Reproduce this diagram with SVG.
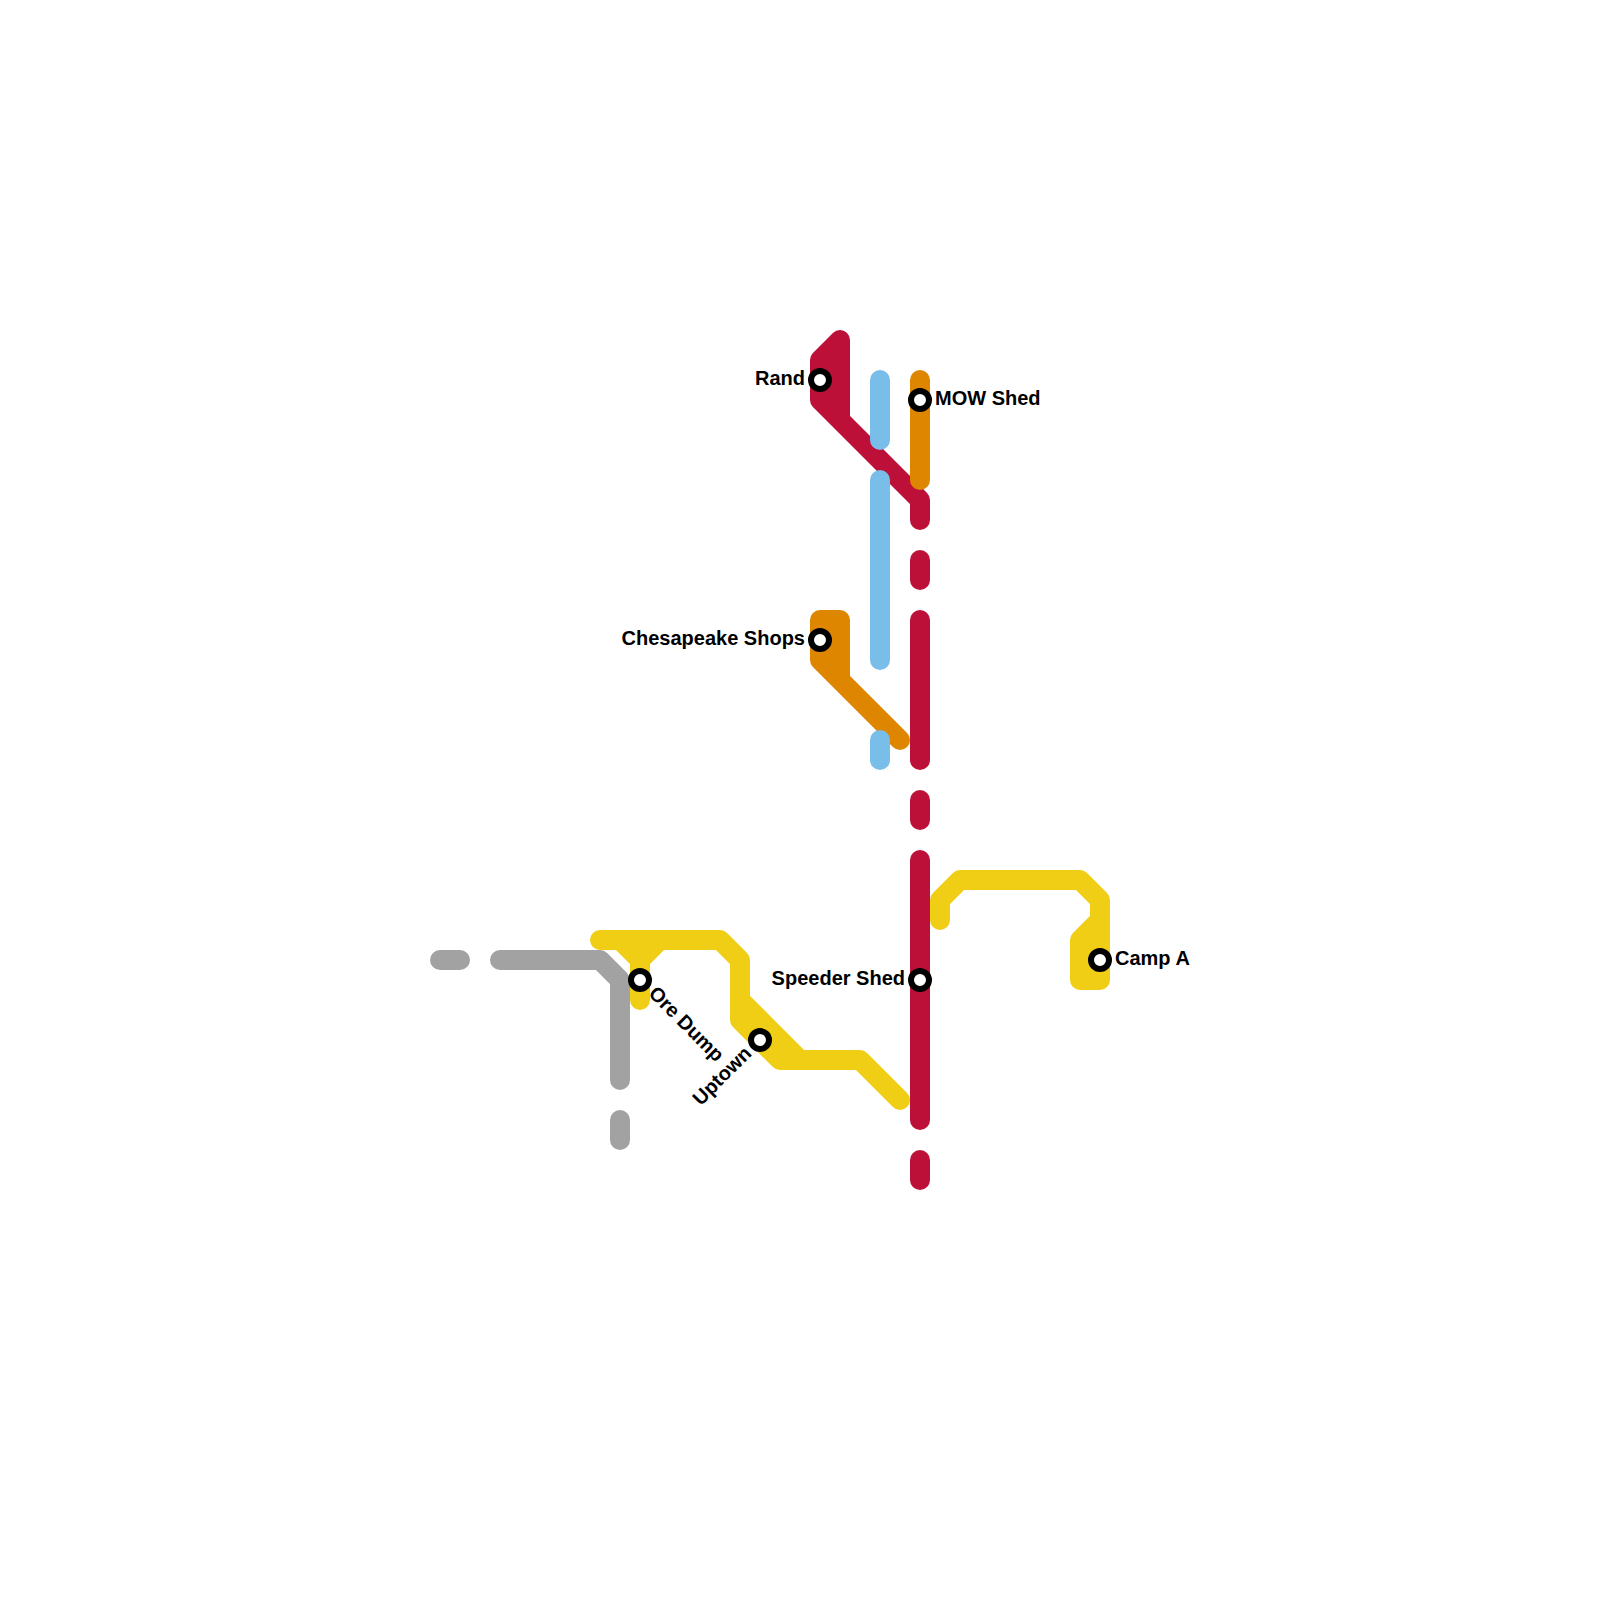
<svg xmlns="http://www.w3.org/2000/svg" width="1600" height="1600" viewBox="0 0 1600 1600">
<style>
.l{fill:none;stroke-width:20;stroke-linecap:round;stroke-linejoin:round}
.red{stroke:#bd1038}.blue{stroke:#79bde9}.orange{stroke:#df8600}.yellow{stroke:#f0ce15}.gray{stroke:#a2a2a2}
.s{fill:#fff;stroke:#000;stroke-width:6}
text{font-family:"Liberation Sans",Arial,sans-serif;font-weight:700;font-size:20px;fill:#000}
.e{text-anchor:end}
</style>
<rect width="1600" height="1600" fill="#fff"/>
<g id="connectors">
<g class="l gray">
<path d="M440 960H460"/>
<path d="M500 960H600L620 980V1080"/>
<path d="M620 1120V1140"/>
</g>
<g class="l red">
<path d="M920 520V500L820 400V360L840 340V420L920 500"/>
<path d="M920 560V580"/>
<path d="M920 620V760"/>
<path d="M920 800V820"/>
<path d="M920 860V1120"/>
<path d="M920 1160V1180"/>
</g>
<g class="l orange">
<path d="M920 380V480"/>
<path d="M900 740L820 660V620H840V680"/>
</g>
<g class="l blue">
<path d="M880 380V440"/>
<path d="M880 480V660"/>
<path d="M880 740V760"/>
</g>
<g class="l yellow">
<path d="M600 940H720L740 960V1020L780 1060H860L900 1100"/>
<path d="M740 1000L800 1060"/>
<path d="M620 940L640 960V1000"/>
<path d="M660 940L640 960"/>
<path d="M940 920V900L960 880H1080L1100 900V980H1080V940L1100 920"/>
</g>
</g>
<g id="rand"><circle class="s" cx="820" cy="380" r="9"/><text class="e" x="805" y="385">Rand</text></g>
<g id="mow-shed"><circle class="s" cx="920" cy="400" r="9"/><text x="935" y="405">MOW Shed</text></g>
<g id="chesapeake-shops"><circle class="s" cx="820" cy="640" r="9"/><text class="e" x="805" y="645">Chesapeake Shops</text></g>
<g id="speeder-shed"><circle class="s" cx="920" cy="980" r="9"/><text class="e" x="905" y="985">Speeder Shed</text></g>
<g id="camp-a"><circle class="s" cx="1100" cy="960" r="9"/><text x="1115" y="965">Camp A</text></g>
<g id="ore-dump"><circle class="s" cx="640" cy="980" r="9"/><text transform="translate(651 991) rotate(45)" x="0" y="5">Ore Dump</text></g>
<g id="uptown"><circle class="s" cx="760" cy="1040" r="9"/><text class="e" transform="translate(749 1051) rotate(-45)" x="0" y="5">Uptown</text></g>
</svg>
